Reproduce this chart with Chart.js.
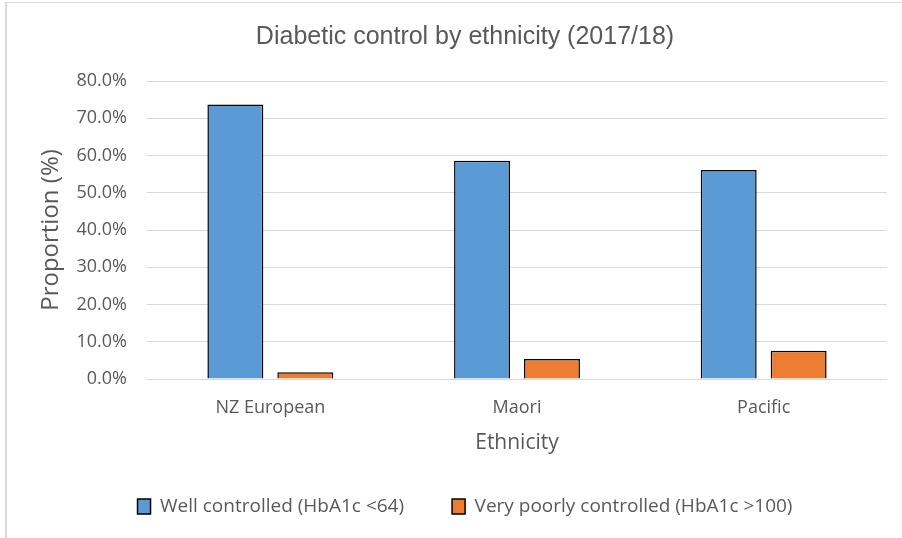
<!DOCTYPE html>
<html>
<head>
<meta charset="utf-8">
<title>Diabetic control by ethnicity (2017/18)</title>
<script src="https://cdn.jsdelivr.net/npm/chart.js@4.4.1/dist/chart.umd.min.js"></script>
<style>
  html, body { margin: 0; padding: 0; background: #fff; overflow: hidden; }
  #frame {
    position: absolute; left: 5px; top: 2px; width: 1000px; height: 1000px;
    border-left: 2px solid #d9d9d9; border-top: 1px solid #d9d9d9;
  }
  #chart { position: absolute; left: 0; top: 0; }
</style>
</head>
<body>
<div id="frame"></div>
<canvas id="chart" width="902" height="526"></canvas>
<script>
// values
const categories = ['NZ European', 'Maori', 'Pacific'];
const wellControlled = [73.7, 58.6, 56.1];
const veryPoorlyControlled = [1.8, 5.4, 7.6];
const yTicks = [0, 10, 20, 30, 40, 50, 60, 70, 80];

const textGrey = '#595959';
Chart.defaults.font.family = "'Open Sans', sans-serif";
Chart.defaults.color = textGrey;

const ctx = document.getElementById('chart').getContext('2d');
new Chart(ctx, {
  type: 'bar',
  data: {
    labels: categories,
    datasets: [{
      label: 'Well controlled (HbA1c <64)',
      data: wellControlled,
      backgroundColor: '#5B9BD5',
      borderColor: '#000000',
      borderWidth: 1.5,
      categoryPercentage: 0.567,
      barPercentage: 0.8
    }, {
      label: 'Very poorly controlled (HbA1c >100)',
      data: veryPoorlyControlled,
      backgroundColor: '#ED7D31',
      borderColor: '#000000',
      borderWidth: 1.5,
      categoryPercentage: 0.567,
      barPercentage: 0.8
    }]
  },
  options: {
    responsive: false,
    animation: false,
    devicePixelRatio: 1,
    layout: {
      padding: { left: 43, right: 15, top: 0, bottom: 0 }
    },
    plugins: {
      title: {
        display: true,
        text: 'Diabetic control by ethnicity (2017/18)',
        color: textGrey,
        font: { family: "'Liberation Sans', Arial, sans-serif", size: 25, weight: 'normal' },
        padding: { top: 22, bottom: 29 }
      },
      legend: {
        position: 'bottom',
        labels: {
          boxWidth: 13,
          boxHeight: 15,
          padding: 48,
          color: textGrey,
          font: { size: 19 }
        }
      },
      tooltip: { enabled: false }
    },
    scales: {
      x: {
        grid: { display: false, drawTicks: false },
        border: { display: false },
        ticks: { color: textGrey, font: { size: 18 }, padding: 18 },
        title: {
          display: true,
          text: 'Ethnicity',
          color: textGrey,
          font: { size: 21, lineHeight: 0.571 },
          padding: 0
        },
        afterFit: function(scale) { scale.height = 70; }
      },
      y: {
        min: yTicks[0],
        max: yTicks[yTicks.length - 1],
        grid: { color: '#d9d9d9', lineWidth: 1, drawTicks: false },
        border: { display: false },
        ticks: {
          stepSize: yTicks[1] - yTicks[0],
          color: textGrey,
          font: { size: 18 },
          padding: 20,
          callback: function(v) { return v.toFixed(1) + '%'; }
        },
        title: {
          display: true,
          text: 'Proportion (%)',
          color: textGrey,
          font: { size: 24, lineHeight: 0.667 },
          padding: 0
        },
        afterFit: function(scale) { scale.width = 104; }
      }
    }
  }
});
</script>
</body>
</html>
